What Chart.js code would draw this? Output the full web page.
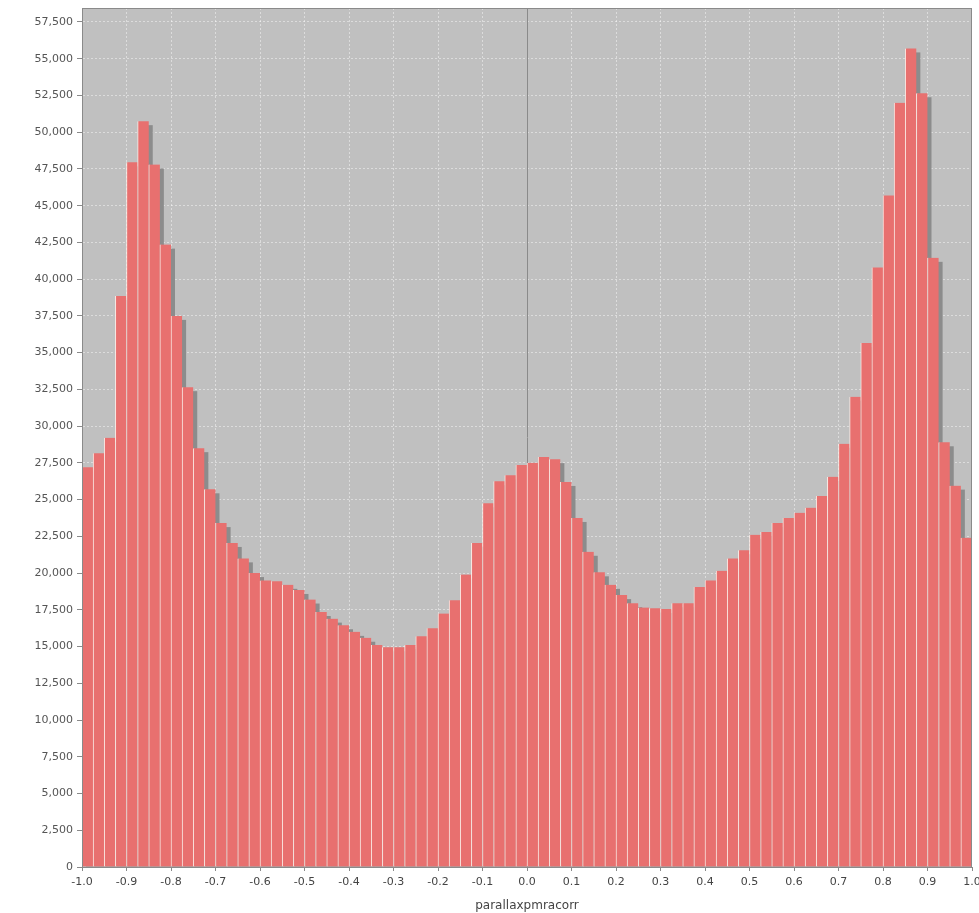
<!DOCTYPE html>
<html>
<head>
<meta charset="utf-8">
<script src="https://cdn.jsdelivr.net/npm/chart.js@4/dist/chart.umd.min.js"></script>
<style>
  html, body { margin: 0; padding: 0; background: #ffffff; overflow: hidden; }
  canvas { display: block; }
</style>
</head>
<body>
<canvas id="c" width="979" height="913"></canvas>
<script>
// ---- data ----
const binCenters = [
  -0.9875,-0.9625,-0.9375,-0.9125,-0.8875,-0.8625,-0.8375,-0.8125,-0.7875,-0.7625,
  -0.7375,-0.7125,-0.6875,-0.6625,-0.6375,-0.6125,-0.5875,-0.5625,-0.5375,-0.5125,
  -0.4875,-0.4625,-0.4375,-0.4125,-0.3875,-0.3625,-0.3375,-0.3125,-0.2875,-0.2625,
  -0.2375,-0.2125,-0.1875,-0.1625,-0.1375,-0.1125,-0.0875,-0.0625,-0.0375,-0.0125,
   0.0125, 0.0375, 0.0625, 0.0875, 0.1125, 0.1375, 0.1625, 0.1875, 0.2125, 0.2375,
   0.2625, 0.2875, 0.3125, 0.3375, 0.3625, 0.3875, 0.4125, 0.4375, 0.4625, 0.4875,
   0.5125, 0.5375, 0.5625, 0.5875, 0.6125, 0.6375, 0.6625, 0.6875, 0.7125, 0.7375,
   0.7625, 0.7875, 0.8125, 0.8375, 0.8625, 0.8875, 0.9125, 0.9375, 0.9625, 0.9875
];
const counts = [
  27200, 28150, 29200, 38850, 47950, 50750, 47800, 42350, 37500, 32650,
  28500, 25700, 23400, 22050, 21000, 20000, 19500, 19450, 19200, 18850,
  18200, 17350, 16900, 16450, 16000, 15600, 15100, 14950, 14950, 15100,
  15700, 16250, 17250, 18150, 19900, 22050, 24750, 26250, 26650, 27350,
  27500, 27900, 27750, 26200, 23750, 21450, 20050, 19200, 18500, 17950,
  17650, 17600, 17550, 17950, 17950, 19050, 19500, 20150, 21000, 21550,
  22600, 22800, 23400, 23750, 24100, 24450, 25250, 26550, 28800, 32000,
  35650, 40800, 45700, 52000, 55700, 52650, 41450, 28900, 25950, 22400
];
const xTickValues = [-1.0,-0.9,-0.8,-0.7,-0.6,-0.5,-0.4,-0.3,-0.2,-0.1,
  0.0,0.1,0.2,0.3,0.4,0.5,0.6,0.7,0.8,0.9,1.0];
const xTickLabels = ['-1.0','-0.9','-0.8','-0.7','-0.6','-0.5','-0.4','-0.3','-0.2','-0.1',
  '0.0','0.1','0.2','0.3','0.4','0.5','0.6','0.7','0.8','0.9','1.0'];
const yTickValues = [0,2500,5000,7500,10000,12500,15000,17500,20000,22500,25000,27500,
  30000,32500,35000,37500,40000,42500,45000,47500,50000,52500,55000,57500];
const yTickLabels = ['0','2,500','5,000','7,500','10,000','12,500','15,000','17,500','20,000',
  '22,500','25,000','27,500','30,000','32,500','35,000','37,500','40,000','42,500','45,000',
  '47,500','50,000','52,500','55,000','57,500'];
const xAxisTitle = 'parallaxpmracorr';

// ---- plugins ----
const plotDecor = {
  id: 'plotDecor',
  beforeDraw(chart) {
    const {ctx, chartArea: a} = chart;
    ctx.save();
    ctx.fillStyle = '#c0c0c0';
    ctx.fillRect(a.left, a.top, a.right - a.left, a.bottom - a.top);
    ctx.restore();
  },
  beforeDatasetsDraw(chart) {
    const {ctx, chartArea: a, scales} = chart;
    ctx.save();
    ctx.beginPath();
    ctx.rect(a.left, a.top, a.right - a.left, a.bottom - a.top);
    ctx.clip();
    // zero line
    const x0 = Math.round(scales.x.getPixelForValue(0)) + 0.5;
    ctx.strokeStyle = '#8a8a8a';
    ctx.lineWidth = 1;
    ctx.beginPath();
    ctx.moveTo(x0, a.top);
    ctx.lineTo(x0, a.bottom);
    ctx.stroke();
    // bar shadows
    ctx.fillStyle = '#8c8c8c';
    const meta = chart.getDatasetMeta(0);
    meta.data.forEach(el => {
      const p = el.getProps(['x', 'y', 'width', 'base'], true);
      ctx.fillRect(p.x - p.width / 2 + 4, p.y + 4, p.width, p.base - p.y - 4);
    });
    ctx.restore();
  },
  afterDatasetsDraw(chart) {
    const {ctx, chartArea: a} = chart;
    ctx.save();
    ctx.strokeStyle = '#8a8a8a';
    ctx.lineWidth = 1;
    ctx.strokeRect(a.left + 0.5, a.top + 0.5, a.right - a.left - 1, a.bottom - a.top);
    ctx.restore();
  }
};

const tickFont = { family: 'DejaVu Sans', size: 11 };

new Chart(document.getElementById('c'), {
  type: 'bar',
  data: {
    datasets: [{
      data: binCenters.map((c, i) => ({ x: c, y: counts[i] })),
      backgroundColor: '#e8706f',
      borderColor: 'rgba(255,236,230,0.95)',
      borderWidth: { left: 1, right: 0, top: 0, bottom: 0 },
      borderSkipped: false,
      barPercentage: 1.0,
      categoryPercentage: 1.0,
      grouped: false
    }]
  },
  plugins: [plotDecor],
  options: {
    responsive: false,
    maintainAspectRatio: false,
    animation: false,
    devicePixelRatio: 1,
    layout: { padding: { top: 8, right: 7, left: 0, bottom: 0 } },
    plugins: {
      legend: { display: false },
      tooltip: { enabled: false },
      title: { display: false }
    },
    scales: {
      x: {
        type: 'linear',
        min: -1.0,
        max: 1.0,
        offset: false,
        afterBuildTicks(scale) { scale.ticks = xTickValues.map(v => ({ value: v })); },
        ticks: {
          autoSkip: false,
          maxRotation: 0,
          color: '#444',
          font: tickFont,
          padding: 5,
          callback: (v, i) => xTickLabels[i]
        },
        grid: {
          color: 'rgba(255,255,255,0.45)',
          lineWidth: 1,
          tickColor: '#8a8a8a',
          tickLength: 4,
          offset: false
        },
        border: { display: true, color: '#8a8a8a', dash: [2, 2] },
        title: {
          display: true,
          text: xAxisTitle,
          color: '#444',
          font: { family: 'DejaVu Sans', size: 12 },
          padding: { top: 1, bottom: 0 }
        },
        afterFit(scale) { scale.height = 46; scale.paddingLeft = 0; scale.paddingRight = 0; }
      },
      y: {
        min: 0,
        max: 58450,
        afterBuildTicks(scale) { scale.ticks = yTickValues.map(v => ({ value: v })); },
        ticks: {
          autoSkip: false,
          color: '#555',
          font: tickFont,
          padding: 4,
          callback: (v, i) => yTickLabels[i]
        },
        grid: {
          color: 'rgba(255,255,255,0.45)',
          lineWidth: 1,
          tickColor: '#8a8a8a',
          tickLength: 5
        },
        border: { display: true, color: '#8a8a8a', dash: [2, 2] },
        afterFit(scale) { scale.width = 82; scale.paddingTop = 0; scale.paddingBottom = 0; }
      }
    }
  }
});
</script>
</body>
</html>
